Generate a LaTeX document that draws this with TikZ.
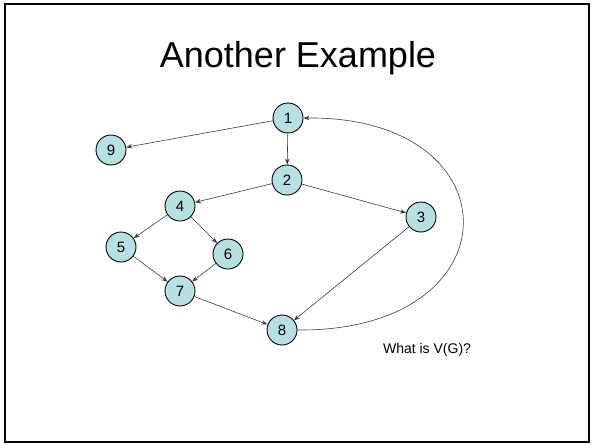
\documentclass[tikz,border=0pt]{standalone}
\usepackage{fontspec}
\setmainfont{Liberation Sans}
\usetikzlibrary{arrows.meta}
\definecolor{nodefill}{RGB}{183,224,226}
\definecolor{edgecol}{RGB}{60,60,60}
\begin{document}
\begin{tikzpicture}[x=1pt,y=-1pt,
  vert/.style={circle,draw=black,line width=0.9pt,fill=nodefill,minimum size=30pt,inner sep=0pt,font=\fontsize{15}{15}\selectfont},
  edge/.style={draw=edgecol,line width=0.6pt,-{Stealth[length=6pt,width=4.5pt]}}]
  % page frame
  \useasboundingbox (0,0) rectangle (593,444);
  \draw[line width=1.6pt] (5,4) rectangle (589,442);
  % title
  \node (title) at (298,58) {\fontsize{36}{36}\selectfont Another Example};
  % vertices
  \node[vert] (n1) at (288,118) {1};
  \node[vert] (n9) at (111,150) {9};
  \node[vert] (n2) at (287,180) {2};
  \node[vert] (n4) at (180,206) {4};
  \node[vert] (n3) at (421,217) {3};
  \node[vert] (n5) at (121,247) {5};
  \node[vert] (n6) at (228,254) {6};
  \node[vert] (n7) at (180,291) {7};
  \node[vert] (n8) at (282,330) {8};
  % edges
  \draw[edge] (n1) -- (n9);
  \draw[edge] (n1) -- (n2);
  \draw[edge] (n2) -- (n4);
  \draw[edge] (n2) -- (n3);
  \draw[edge] (n4) -- (n5);
  \draw[edge] (n4) -- (n6);
  \draw[edge] (n5) -- (n7);
  \draw[edge] (n6) -- (n7);
  \draw[edge] (n7) -- (n8);
  \draw[edge] (n3) -- (n8);
  \draw[edge] (n8.east) .. controls (517,332) and (517,116) .. (n1.east);
  % question
  \node (q) at (427,350) {\fontsize{14}{14}\selectfont What is V(G)?};
\end{tikzpicture}
\end{document}
